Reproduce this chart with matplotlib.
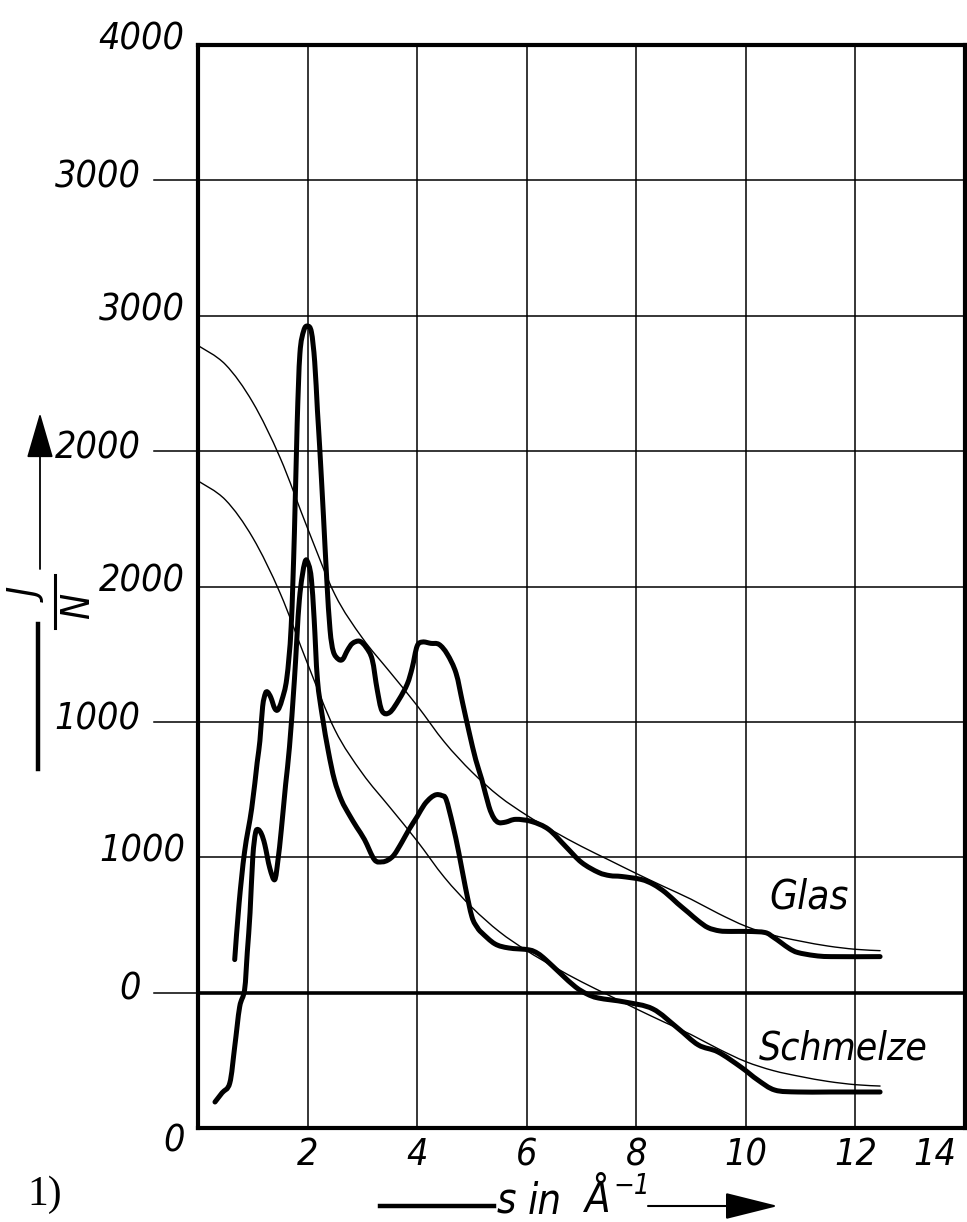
import matplotlib
matplotlib.use("Agg")
import matplotlib.pyplot as plt
from matplotlib import font_manager
from matplotlib.lines import Line2D
from matplotlib.path import Path
from matplotlib.patches import PathPatch

W, H, DPI = 967, 1222, 100

# ---- data -------------------------------------------------------------
# scattering vector s in 1/Å and intensity J/N (own scale of each curve)
glas_s = [0.67, 0.75, 0.85, 0.98, 1.08, 1.13, 1.18, 1.23, 1.27, 1.33, 1.40,
          1.46, 1.53, 1.62, 1.70, 1.76, 1.81, 1.86, 1.93, 2.00, 2.07, 2.13,
          2.18, 2.22, 2.29, 2.35, 2.41, 2.47, 2.56, 2.64, 2.73, 2.82, 2.95,
          3.07, 3.18, 3.27, 3.36, 3.50, 3.67, 3.82, 3.91, 4.00, 4.10, 4.25,
          4.40, 4.55, 4.71, 4.83, 4.95, 5.07, 5.18, 5.31, 5.40, 5.49, 5.62,
          5.80, 6.09, 6.40, 6.71, 7.00, 7.31, 7.52, 7.73, 8.09, 8.31, 8.53,
          8.75, 8.95, 9.13, 9.31, 9.52, 9.73, 10.04, 10.35, 10.50, 10.64,
          10.80, 10.95, 11.25, 11.55, 12.45]
glas_j = [122, 330, 520, 680, 850, 930, 1057, 1105, 1110, 1090, 1050,
          1045, 1080, 1160, 1350, 1700, 2100, 2360, 2445, 2462, 2440, 2330,
          2150, 2018, 1760, 1527, 1340, 1260, 1232, 1231, 1265, 1290, 1298,
          1275, 1230, 1120, 1040, 1035, 1083, 1140, 1200, 1280, 1295, 1290,
          1286, 1250, 1180, 1070, 961, 860, 787, 688, 645, 628, 630,
          640, 632, 603, 540, 481, 444, 432, 429, 418, 400, 370,
          330, 296, 265, 240, 228, 226, 226, 222, 205, 185,
          162, 148, 137, 133, 133]

schmelze_s = [0.31, 0.44, 0.58, 0.67, 0.76, 0.85, 0.90, 0.95, 1.00, 1.05,
              1.10, 1.16, 1.22, 1.31, 1.40, 1.46, 1.52, 1.60, 1.67, 1.76,
              1.85, 1.95, 2.02, 2.07, 2.12, 2.18, 2.27, 2.38, 2.49, 2.62,
              2.76, 2.90, 3.04, 3.22, 3.36, 3.47, 3.58, 3.72, 3.85, 4.00,
              4.13, 4.25, 4.35, 4.45, 4.53, 4.65, 4.76, 4.88, 5.00, 5.10,
              5.18, 5.42, 5.67, 6.04, 6.20, 6.35, 6.62, 6.89, 7.10, 7.31,
              7.80, 8.30, 8.75, 9.13, 9.49, 9.91, 10.22, 10.53, 10.95, 11.55,
              12.45]
schmelze_j = [96, 130, 166, 300, 447, 510, 650, 795, 1000, 1090,
              1102, 1085, 1046, 960, 917, 990, 1100, 1270, 1408, 1656,
              1950, 2089, 2080, 2026, 1880, 1656, 1520, 1390, 1286, 1210,
              1157, 1110, 1065, 991, 983, 990, 1009, 1055, 1102, 1150,
              1194, 1220, 1231, 1228, 1213, 1120, 1017, 890, 780, 740,
              721, 680, 665, 658, 645, 621, 570, 521, 495, 480,
              465, 440, 370, 307, 281, 225, 177, 140, 133, 133,
              133]

# independent (atomic) scattering, drawn under both curves
unabh_s = [0.0, 0.5, 1.0, 1.5, 2.0, 2.5, 3.0, 3.5, 4.0, 4.5, 5.0, 5.5, 6.0,
           6.5, 7.0, 7.5, 8.0, 8.5, 9.0, 9.5, 10.0, 10.5, 11.0, 11.5, 12.0,
           12.45]
unabh_j = [2390, 2320, 2180, 1975, 1715, 1470, 1310, 1185, 1060, 925, 815,
           725, 655, 595, 540, 490, 440, 392, 345, 292, 245, 212, 190, 172,
           160, 155]

glas_offset = 500                       # Glas is raised by one half step
x_ticks = [2, 4, 6, 8, 10, 12, 14]
y_ticks_schmelze = [0, 1000, 2000, 3000, 4000]
y_ticks_glas = [0, 1000, 2000, 3000]

# ---- fonts ------------------------------------------------------------
entries = font_manager.fontManager.ttflist
names = {f.name for f in entries}
has_cond = any(f.name == "DejaVu Sans" and f.stretch == "condensed"
               and f.style in ("oblique", "italic") for f in entries)
if "Liberation Sans Narrow" in names:
    NUM = dict(family="Liberation Sans Narrow", style="italic", color="black")
    num_size = 30
elif has_cond:
    NUM = dict(family="DejaVu Sans", style="italic", stretch="condensed",
               color="black")
    num_size = 27
else:
    NUM = dict(family="DejaVu Sans", style="italic", color="black")
    num_size = 23


def smooth_path(xs, ys):
    """Catmull-Rom curve through the points, as cubic Bezier segments."""
    pts = list(zip(xs, ys))
    verts = [pts[0]]
    codes = [Path.MOVETO]
    n = len(pts)
    for i in range(n - 1):
        p0 = pts[i - 1] if i > 0 else pts[i]
        p1, p2 = pts[i], pts[i + 1]
        p3 = pts[i + 2] if i + 2 < n else pts[i + 1]
        c1 = (p1[0] + (p2[0] - p0[0]) / 6, p1[1] + (p2[1] - p0[1]) / 6)
        c2 = (p2[0] - (p3[0] - p1[0]) / 6, p2[1] - (p3[1] - p1[1]) / 6)
        verts += [c1, c2, p2]
        codes += [Path.CURVE4] * 3
    return Path(verts, codes)


def draw_curve(ax, xs, ys, lw):
    patch = PathPatch(smooth_path(xs, ys), fill=False, edgecolor="black",
                      lw=lw, joinstyle="round", capstyle="round", zorder=4)
    ax.add_patch(patch)


fig = plt.figure(figsize=(W / DPI, H / DPI), dpi=DPI)
L, R, T, B = 198, 965, 45, 1128
ax = fig.add_axes([L / W, 1 - B / H, (R - L) / W, (B - T) / H])
ax.set_xlim(0, 14)
ax.set_ylim(0, 4000)
ax.set_xticks([])
ax.set_yticks([])
for sp in ax.spines.values():
    sp.set_linewidth(3.0)

# grid
for xv in range(2, 14, 2):
    ax.axvline(xv, color="black", lw=1.1, zorder=1)
for yv in range(500, 4000, 500):
    ax.axhline(yv, color="black", lw=2.6 if yv == glas_offset else 1.1, zorder=1)

# curves
draw_curve(ax, unabh_s, [v + glas_offset for v in unabh_j], 1.0)
draw_curve(ax, unabh_s, unabh_j, 1.0)
draw_curve(ax, glas_s, [v + glas_offset for v in glas_j], 3.6)
draw_curve(ax, schmelze_s, schmelze_j, 3.6)

# y labels: Schmelze scale next to the frame, Glas scale further out with ticks
for v in y_ticks_schmelze:
    dy = -50 if v == 0 else 20
    ax.text(-0.24, v + dy, f"{v}", ha="right", va="center", fontsize=num_size,
            clip_on=False, **NUM)
for v in y_ticks_glas:
    ax.plot([-0.8, 0], [v + glas_offset] * 2, color="black", lw=1.1, clip_on=False)
    ax.text(-1.05, v + glas_offset + 10, f"{v}", ha="right", va="center",
            fontsize=num_size, clip_on=False, **NUM)

# x labels
for xv in x_ticks:
    xpos = xv if xv < 14 else 13.45
    ax.text(xpos, -100, f"{xv}", ha="center", va="center", fontsize=num_size,
            clip_on=False, **NUM)

# curve names
ax.text(11.15, 500 + 355, "Glas", ha="center", va="center", fontsize=num_size + 2, **NUM)
ax.text(11.78, 295, "Schmelze", ha="center", va="center", fontsize=num_size + 1, **NUM)

# ---- axis titles drawn in figure pixels ------------------------------
def fp(x, y):
    return (x, H - y)

# J/N with arrow
ax.annotate("", xy=fp(40, 413), xytext=fp(40, 569), xycoords="figure pixels",
            textcoords="figure pixels",
            arrowprops=dict(arrowstyle="-|>,head_length=1.2,head_width=0.35",
                            lw=1.3, color="black", mutation_scale=24,
                            shrinkA=0, shrinkB=0))
fig.add_artist(Line2D([38 / W, 38 / W], [1 - 624 / H, 1 - 769 / H],
                      color="black", lw=3.2))
fig.add_artist(Line2D([55 / W, 55 / W], [1 - 575 / H, 1 - 628 / H],
                      color="black", lw=2.2))
fig.text(31 / W, 1 - 597 / H, "J", rotation=90, ha="center", va="center",
         fontsize=28, **NUM)
fig.text(78 / W, 1 - 606 / H, "N", rotation=90, ha="center", va="center",
         fontsize=28, **NUM)

# s in Å^-1 with arrow
fig.add_artist(Line2D([380 / W, 494 / W], [1 - 1206 / H] * 2, color="black", lw=3.2))
fig.text(506 / W, 1 - 1202 / H, "s", ha="center", va="center", fontsize=30, **NUM)
fig.text(545 / W, 1 - 1202 / H, "in", ha="center", va="center", fontsize=30, **NUM)
fig.text(598 / W, 1 - 1200 / H, "Å", ha="center", va="center", fontsize=30, **NUM)
fig.text(632 / W, 1 - 1186 / H, "−1", ha="center", va="center", fontsize=20, **NUM)
ax.annotate("", xy=fp(778, 1206), xytext=fp(648, 1206), xycoords="figure pixels",
            textcoords="figure pixels",
            arrowprops=dict(arrowstyle="-|>,head_length=1.4,head_width=0.35",
                            lw=1.5, color="black", mutation_scale=24,
                            shrinkA=0, shrinkB=0))

fig.text(45 / W, 1 - 1195 / H, "1)", ha="center", va="center", fontsize=30,
         family="Liberation Serif", color="black")

fig.savefig("out.png", dpi=DPI, facecolor="white")
